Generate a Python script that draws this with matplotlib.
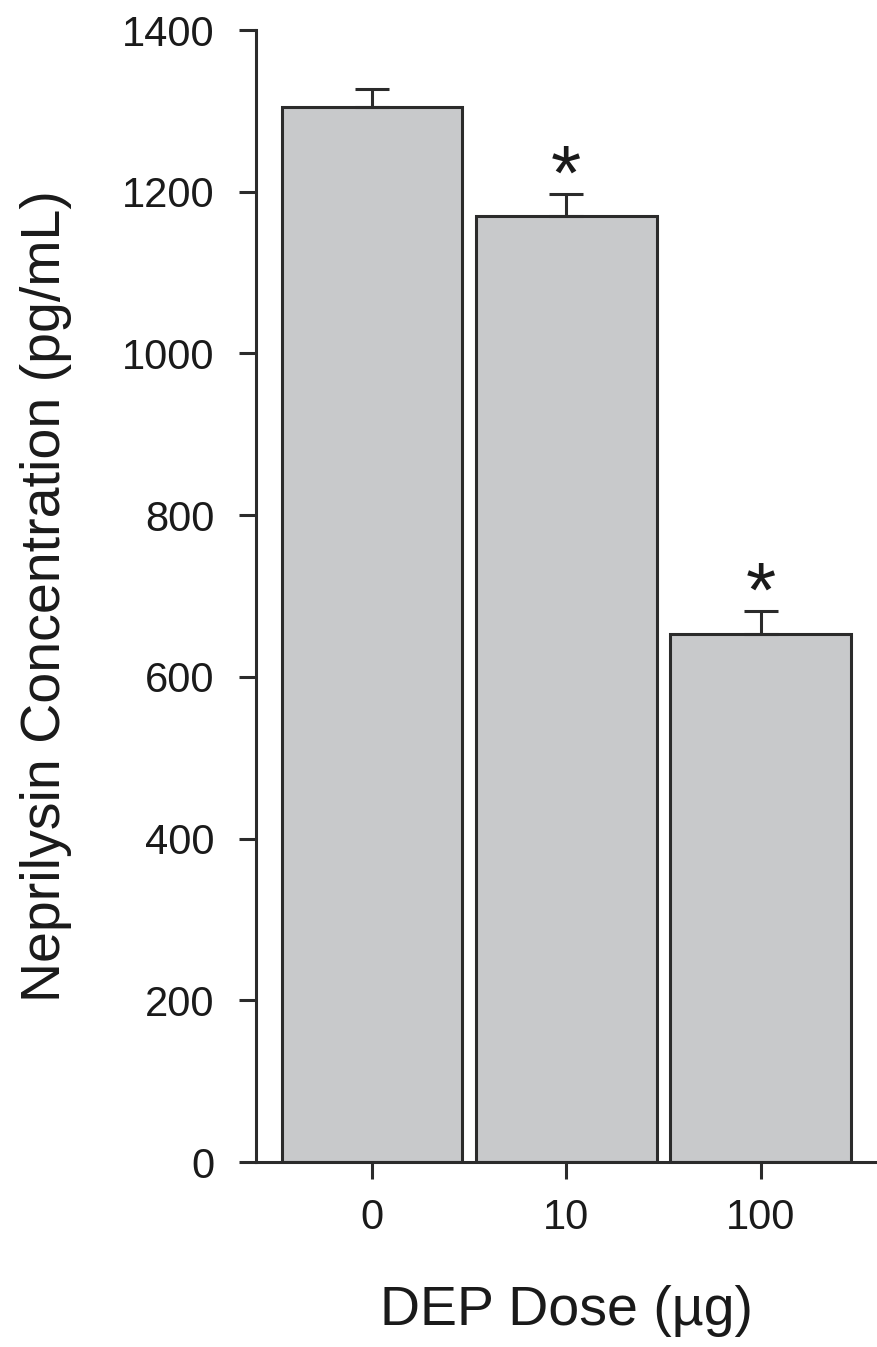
import matplotlib.pyplot as plt

# data
doses = ['0', '10', '100']
means = [1305, 1170, 653]
errors = [22, 27, 28]
stars = ['', '*', '*']

plt.rcParams['font.family'] = ['Liberation Sans', 'DejaVu Sans']

fig = plt.figure(figsize=(8.77, 13.47), dpi=100)
ax = fig.add_axes([0.292, 0.1373, 0.708, 0.8404])

x = range(len(doses))
ax.bar(x, means, width=0.93, color='#c8c9cb', edgecolor='#2b2b2b', linewidth=2.2, zorder=2)
ax.errorbar(x, means, yerr=[[0] * len(errors), errors], fmt='none', ecolor='#2b2b2b',
            elinewidth=2.2, capsize=12, capthick=2.2, zorder=3)

for xi, m, e, s in zip(x, means, errors, stars):
    if s:
        ax.text(xi, m + e - 26, s, ha='center', va='bottom', fontsize=56, color='#1a1a1a')

ax.set_xlim(-0.598, 2.60)
ax.set_ylim(0, 1400)
ax.set_yticks(range(0, 1401, 200))
ax.set_xticks(list(x))
ax.set_xticklabels(doses)

for side in ['top', 'right']:
    ax.spines[side].set_visible(False)
for side in ['left', 'bottom']:
    ax.spines[side].set_linewidth(2.2)
    ax.spines[side].set_color('#2b2b2b')

ax.tick_params(axis='both', direction='out', width=2.2, color='#2b2b2b',
               labelsize=30, labelcolor='#1a1a1a')
ax.tick_params(axis='y', length=12, pad=18)
ax.tick_params(axis='x', length=12, pad=14)

ax.set_ylabel('Neprilysin Concentration (pg/mL)', fontsize=40, color='#1a1a1a', labelpad=36)
ax.set_xlabel('DEP Dose (µg)', fontsize=40, color='#1a1a1a', labelpad=34)

fig.savefig('out.png', dpi=100)
